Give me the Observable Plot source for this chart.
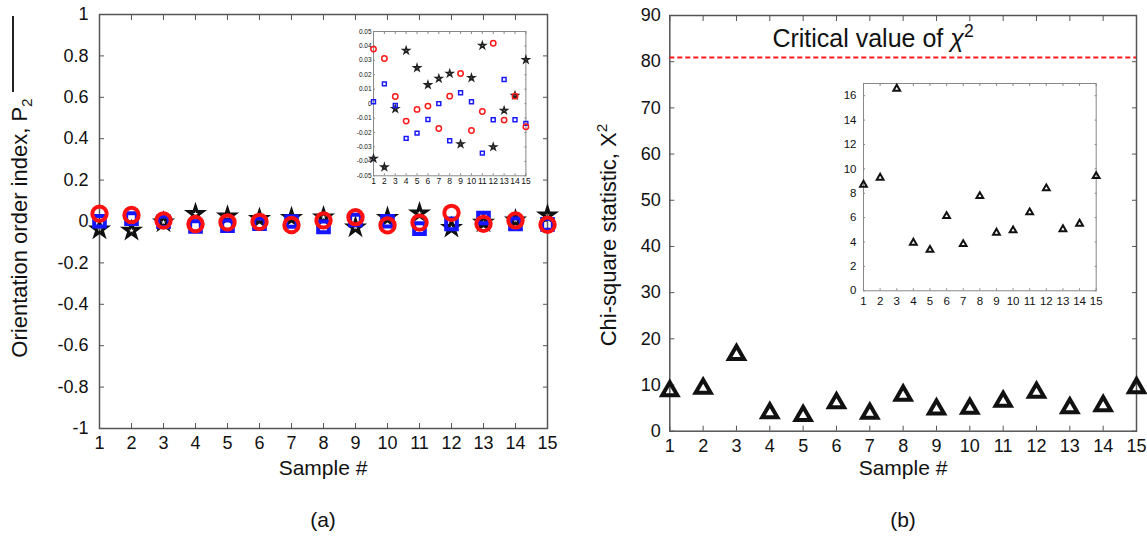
<!DOCTYPE html>
<html><head><meta charset="utf-8">
<script src="https://cdn.jsdelivr.net/npm/d3@7"></script>
<script src="https://cdn.jsdelivr.net/npm/@observablehq/plot@0.6"></script>
<style>
body{margin:0;background:#fff;}
#root{position:relative;width:1147px;height:536px;overflow:hidden;font-family:"Liberation Sans",Arial,sans-serif;color:#111;}
#root svg{position:absolute;overflow:visible;max-width:none;}
.lbl{position:absolute;white-space:nowrap;transform:translate(-50%,-50%);line-height:1;}
.rot{transform:translate(-50%,-50%) rotate(-90deg);}
</style></head><body><div id="root"></div>
<script>
// ---------- data ----------
const samples = [1,2,3,4,5,6,7,8,9,10,11,12,13,14,15];
const p2Star   = [-0.038,-0.044,-0.0036,0.0368,0.0248,0.013,0.0174,0.0209,-0.028,0.0179,0.0403,-0.030,-0.0047,0.0057,0.0304];
const p2Square = [0.0013,0.0137,-0.0013,-0.0241,-0.0204,-0.011,0.0,-0.0257,0.0075,0.0013,-0.0343,-0.0112,0.0167,-0.0112,-0.0137];
const p2Circle = [0.0378,0.0313,0.005,-0.0121,-0.004,-0.0017,-0.0172,0.0052,0.0209,-0.0186,-0.0054,0.0419,-0.0114,0.0052,-0.016];
const chiSq = [8.7,9.27,16.57,3.94,3.36,6.13,3.83,7.77,4.76,4.95,6.43,8.4,5.05,5.5,9.4];
const chiCritical = 80.9;
const p2Ticks = [-1,-0.8,-0.6,-0.4,-0.2,0,0.2,0.4,0.6,0.8,1];
const p2InsetTicks = [-0.05,-0.04,-0.03,-0.02,-0.01,0,0.01,0.02,0.03,0.04,0.05];
const chiTicks = [0,10,20,30,40,50,60,70,80,90];
const chiInsetTicks = [0,2,4,6,8,10,12,14,16];

const star = samples.map((s,i)=>({s, v:p2Star[i]}));
const square = samples.map((s,i)=>({s, v:p2Square[i]}));
const circle = samples.map((s,i)=>({s, v:p2Circle[i]}));
const chi = samples.map((s,i)=>({s, v:chiSq[i]}));

const root = document.getElementById("root");
const FONT = "Liberation Sans, Arial, sans-serif";
function place(svg, left, top){ svg.style.left = left+"px"; svg.style.top = top+"px"; root.appendChild(svg); }
function label(html, x, y, size, cls=""){ const d=document.createElement("div"); d.className="lbl "+cls; d.style.left=x+"px"; d.style.top=y+"px"; d.style.fontSize=size+"px"; d.innerHTML=html; root.appendChild(d); }
const fmt1 = d => d===0 ? "0" : String(+d.toFixed(1));
const fmt2 = d => d===0 ? "0" : String(+d.toFixed(2));

// inward ticks on all four sides
function inwardTicks(xt, yt, size, color){
  return [
    Plot.axisX({ticks:xt, anchor:"bottom", tickSize:size, dy:-size, fill:"none", stroke:color, label:null}),
    Plot.axisX({ticks:xt, anchor:"top", tickSize:size, dy:size, fill:"none", stroke:color, label:null}),
    Plot.axisY({ticks:yt, anchor:"left", tickSize:size, dx:size, fill:"none", stroke:color, label:null}),
    Plot.axisY({ticks:yt, anchor:"right", tickSize:size, dx:-size, fill:"none", stroke:color, label:null})
  ];
}

// ---------- panel (a) main ----------
place(Plot.plot({
  width:560, height:470, marginLeft:99, marginTop:14, marginRight:13, marginBottom:42,
  style:{fontFamily:FONT, fontSize:"18px", background:"transparent", color:"#111", overflow:"visible"},
  x:{domain:[1,15]}, y:{domain:[-1,1]},
  marks:[
    ...inwardTicks(samples, p2Ticks, 5, "#555"),
    Plot.axisX({ticks:samples, anchor:"bottom", tickSize:0, tickPadding:8, fontSize:18, label:null}),
    Plot.axisY({ticks:p2Ticks, anchor:"left", tickSize:0, tickPadding:11, fontSize:18, tickFormat:fmt1, label:null}),
    Plot.frame({stroke:"#555", strokeWidth:1.5}),
    Plot.dot(star, {x:"s", y:"v", symbol:"star", r:4.4, stroke:"#111", strokeWidth:3, fill:"none"}),
    Plot.dot(square, {x:"s", y:"v", symbol:"square", r:6, stroke:"#1515ff", strokeWidth:4, fill:"none"}),
    Plot.dot(circle, {x:"s", y:"v", symbol:"circle", r:7.2, stroke:"#ff1010", strokeWidth:4, fill:"none"})
  ]
}), 0, 0);

// ---------- panel (a) inset ----------
place(Plot.plot({
  width:187.4, height:164.3, marginLeft:30, marginTop:5, marginRight:5, marginBottom:15,
  style:{fontFamily:FONT, fontSize:"7px", background:"transparent", color:"#111", overflow:"visible"},
  x:{domain:[1,15]}, y:{domain:[-0.05,0.05]},
  marks:[
    Plot.frame({fill:"white", stroke:"none"}),
    ...inwardTicks(samples, p2InsetTicks, 2, "#888"),
    Plot.axisX({ticks:samples, anchor:"bottom", tickSize:0, tickPadding:2, fontSize:8.5, label:null}),
    Plot.axisY({ticks:p2InsetTicks, anchor:"left", tickSize:0, tickPadding:2, fontSize:6.5, tickFormat:fmt2, label:null}),
    Plot.frame({stroke:"#888", strokeWidth:1}),
    Plot.dot(star, {x:"s", y:"v", symbol:"star", r:1.9, stroke:"#222", strokeWidth:1.6, fill:"none"}),
    Plot.dot(square, {x:"s", y:"v", symbol:"square", r:2.2, stroke:"#1a1aff", strokeWidth:1.5, fill:"none"}),
    Plot.dot(circle, {x:"s", y:"v", symbol:"circle", r:2.7, stroke:"#ff1a1a", strokeWidth:1.5, fill:"none"})
  ]
}), 343.3, 26);

// ---------- panel (b) main ----------
place(Plot.plot({
  width:567, height:470, marginLeft:89.3, marginTop:15, marginRight:11, marginBottom:39.3,
  style:{fontFamily:FONT, fontSize:"18px", background:"transparent", color:"#111", overflow:"visible"},
  x:{domain:[1,15]}, y:{domain:[0,90]},
  marks:[
    ...inwardTicks(samples, chiTicks, 5, "#555"),
    Plot.axisX({ticks:samples, anchor:"bottom", tickSize:0, tickPadding:8, fontSize:18, label:null}),
    Plot.axisY({ticks:chiTicks, anchor:"left", tickSize:0, tickPadding:9, fontSize:18, label:null}),
    Plot.frame({stroke:"#555", strokeWidth:1.5}),
    Plot.ruleY([chiCritical], {stroke:"#ff1a1a", strokeWidth:2, strokeDasharray:"5,3"}),
    Plot.dot(chi, {x:"s", y:"v", symbol:"triangle", r:5.6, stroke:"#111", strokeWidth:4, fill:"none"})
  ]
}), 580, 0);

// ---------- panel (b) inset ----------
place(Plot.plot({
  width:267.7, height:232.3, marginLeft:30, marginTop:5, marginRight:5, marginBottom:20,
  style:{fontFamily:FONT, fontSize:"12px", background:"transparent", color:"#111", overflow:"visible"},
  x:{domain:[1,15]}, y:{domain:[0,17]},
  marks:[
    Plot.frame({fill:"white", stroke:"none"}),
    ...inwardTicks(samples, chiInsetTicks, 2, "#888"),
    Plot.axisX({ticks:samples, anchor:"bottom", tickSize:0, tickPadding:6, fontSize:11.5, label:null}),
    Plot.axisY({ticks:chiInsetTicks, anchor:"left", tickSize:0, tickPadding:7, fontSize:11.5, label:null}),
    Plot.frame({stroke:"#888", strokeWidth:1}),
    Plot.dot(chi, {x:"s", y:"v", symbol:"triangle", r:2.5, stroke:"#111", strokeWidth:2, fill:"none"})
  ]
}), 833.3, 77.7);

// ---------- text ----------
label("Orientation order index, P<sub style='font-size:0.7em'>2</sub>", 22, 228, 22, "rot");
label("Sample #", 323, 467, 21);
label("(a)", 323, 519, 21);
label("Chi-square statistic, X<sup style='font-size:0.7em'>2</sup>", 607, 235, 22, "rot");
label("Sample #", 903, 467, 21);
label("(b)", 903, 519, 21);
label("Critical value of <i>χ</i><sup style='font-size:0.7em'>2</sup>", 873, 37, 25);
// stray overline stroke on the left label
const ov = document.createElement("div");
ov.style.cssText = "position:absolute;left:12px;top:16px;width:1.5px;height:76px;background:#222;";
root.appendChild(ov);
</script></body></html>
